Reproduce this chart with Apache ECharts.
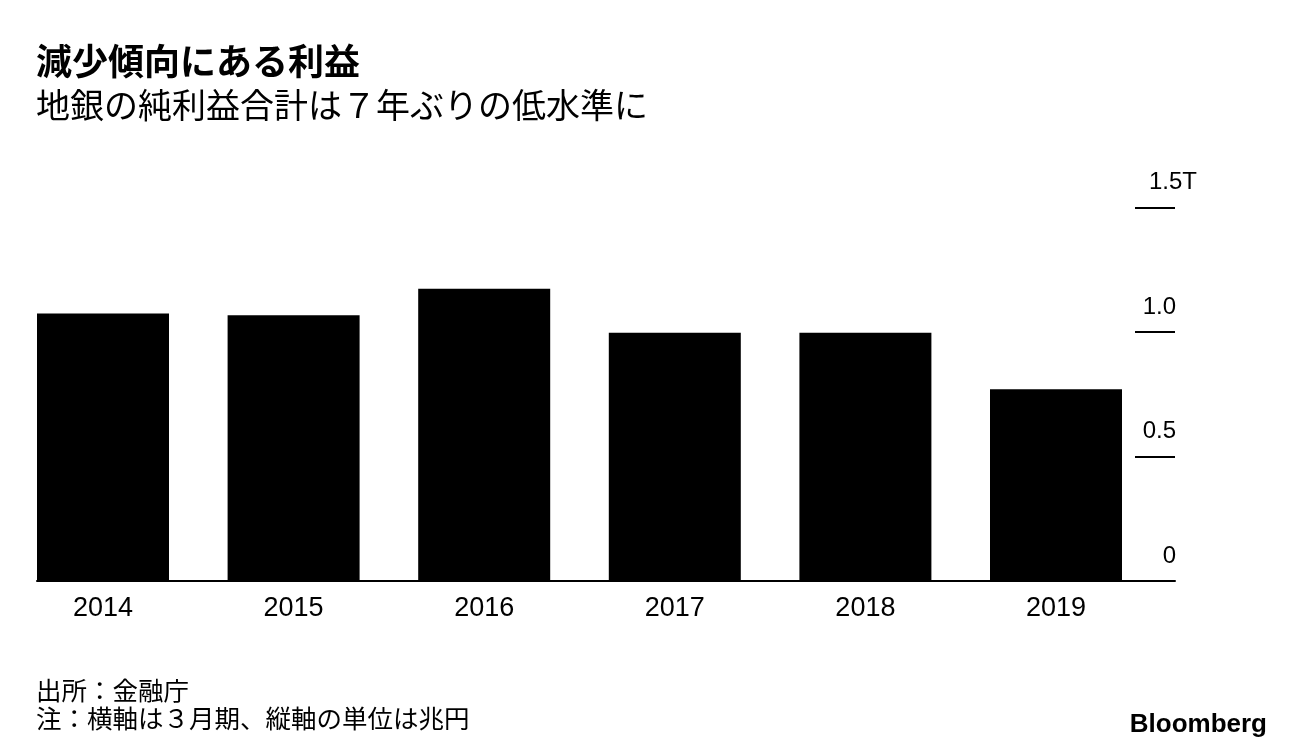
<!DOCTYPE html>
<html>
<head>
<meta charset="utf-8">
<script src="https://cdn.jsdelivr.net/npm/echarts@6/dist/echarts.min.js"></script>
<style>
html,body{margin:0;padding:0;background:#fff;}
#c{width:1296px;height:750px;}
</style>
</head>
<body>
<div id="c"></div>
<script>
const categories = ['2014', '2015', '2016', '2017', '2018', '2019'];
const profits = [1.075, 1.068, 1.174, 0.998, 0.998, 0.770];
const yTickValues = [0, 0.5, 1.0, 1.5];
const yTickLabels = ['0', '0.5', '1.0', '1.5T'];
const titleText = '減少傾向にある利益';
const subtitleText = '地銀の純利益合計は７年ぶりの低水準に';
const sourceText = '出所：金融庁';
const noteText = '注：横軸は３月期、縦軸の単位は兆円';

const LATIN = '"Liberation Sans", Arial, "Noto Sans CJK JP", sans-serif';
const CJK = '"Noto Sans CJK JP", "Liberation Sans", sans-serif';

const chart = echarts.init(document.getElementById('c'), null, {renderer: 'canvas'});

const option = {
  backgroundColor: '#ffffff',
  animation: false,
  grid: [
    {left: 7.7, right: 144.7, top: 207.7, bottom: 169, containLabel: false},
    {left: 37, right: 121, top: 207.7, bottom: 169, containLabel: false},
    {left: 1135, right: 121, top: 207.7, bottom: 169, containLabel: false}
  ],
  xAxis: [
    {
      gridIndex: 0, type: 'category', data: categories, boundaryGap: true,
      axisLine: {show: false}, axisTick: {show: false}, splitLine: {show: false},
      axisLabel: {color: '#000', fontFamily: LATIN, fontSize: 27, margin: 14}
    },
    {
      gridIndex: 1, type: 'value', min: 0, max: 1,
      axisLine: {show: true, onZero: true, lineStyle: {color: '#000', width: 2}},
      axisTick: {show: false}, axisLabel: {show: false}, splitLine: {show: false}
    },
    {
      gridIndex: 2, type: 'value', min: 0, max: 1, show: false
    }
  ],
  yAxis: [
    {
      gridIndex: 0, type: 'value', min: 0, max: 1.5, interval: 0.5, show: false
    },
    {
      gridIndex: 1, type: 'value', min: 0, max: 1.5, interval: 0.5, position: 'right',
      axisLine: {show: false},
      axisTick: {show: false},
      splitLine: {show: false},
      axisLabel: {
        show: true, align: 'right', verticalAlign: 'bottom', margin: 22,
        padding: [0, 0, 13, 0],
        color: '#000', fontFamily: LATIN, fontSize: 24,
        formatter: function (v) {
          const i = yTickValues.findIndex(t => Math.abs(t - v) < 1e-9);
          const lab = i >= 0 ? yTickLabels[i] : String(v);
          if (lab.endsWith('T')) return '{a|' + lab + '}';
          return '{a|' + lab + '}{s|\u00a0}';
        },
        rich: {
          a: {color: '#000', fontFamily: LATIN, fontSize: 24},
          s: {width: 21, fontSize: 24}
        }
      }
    },
    {
      gridIndex: 2, type: 'value', min: 0, max: 1.5, interval: 0.5,
      axisLine: {show: false}, axisTick: {show: false}, axisLabel: {show: false},
      splitLine: {show: true, lineStyle: {color: '#000', width: 2}}
    }
  ],
  series: [
    {
      type: 'bar', xAxisIndex: 0, yAxisIndex: 0, data: profits,
      barWidth: 132, itemStyle: {color: '#000'}, silent: true
    }
  ],
  graphic: [
    {type: 'text', left: 36, top: 43, style: {text: titleText, font: 'bold 36px ' + CJK, fill: '#000'}},
    {type: 'text', left: 36, top: 88, style: {text: subtitleText, font: '34px ' + CJK, fill: '#000'}},
    {type: 'text', left: 36, top: 678, style: {text: sourceText, font: '25.5px ' + CJK, fill: '#000'}},
    {type: 'text', left: 36, top: 706, style: {text: noteText, font: '25.5px ' + CJK, fill: '#000'}},
    {type: 'text', right: 29, top: 712, style: {text: 'Bloomberg', font: 'bold 26px ' + LATIN, fill: '#000'}}
  ]
};
chart.setOption(option);
</script>
</body>
</html>
